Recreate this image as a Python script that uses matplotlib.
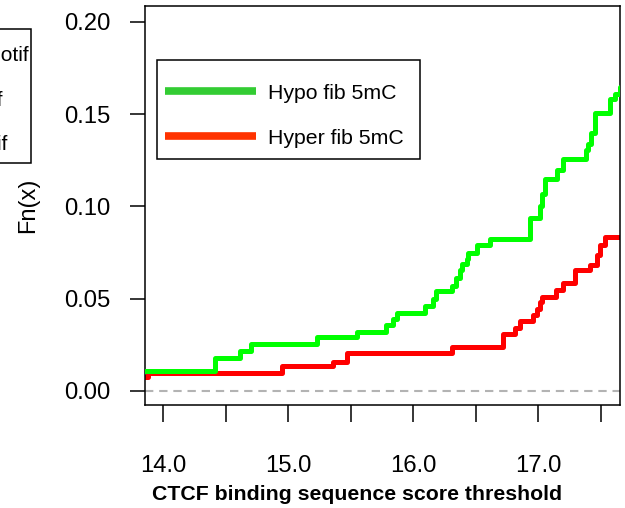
import numpy as np
import matplotlib.pyplot as plt
from matplotlib.lines import Line2D
from matplotlib.patches import Rectangle

plt.rcParams['font.family'] = ['Liberation Sans', 'DejaVu Sans']

# ecdf jump points (x = score, y = Fn(x) after the jump)
hypo_start = 0.011
hypo_x = [14.41, 14.61, 14.70, 15.23, 15.55, 15.78, 15.84, 15.87, 16.09, 16.16,
          16.18, 16.31, 16.34, 16.37, 16.39, 16.43, 16.44, 16.51, 16.61, 16.93,
          17.01, 17.03, 17.05, 17.15, 17.20, 17.38, 17.40, 17.42, 17.45, 17.57,
          17.61, 17.65]
hypo_y = [0.0179, 0.0217, 0.0254, 0.029, 0.032, 0.0357, 0.039, 0.0424, 0.046, 0.050,
          0.054, 0.057, 0.061, 0.0655, 0.069, 0.0715, 0.075, 0.079, 0.0823, 0.0937,
          0.100, 0.107, 0.115, 0.1197, 0.1255, 0.1305, 0.134, 0.140, 0.1504, 0.158,
          0.161, 0.1645]

hyper_start = 0.0074
hyper_x = [13.88, 14.95, 15.36, 15.47, 16.31, 16.72, 16.81, 16.85, 16.96, 16.99,
           17.01, 17.03, 17.14, 17.20, 17.29, 17.41, 17.47, 17.49, 17.53]
hyper_y = [0.0099, 0.0135, 0.0159, 0.0204, 0.024, 0.0309, 0.034, 0.038, 0.041, 0.0443,
           0.048, 0.051, 0.0547, 0.0587, 0.0655, 0.068, 0.0737, 0.079, 0.0836]

labels = ['Hypo fib 5mC', 'Hyper fib 5mC']
x_ticks = [14.0, 14.5, 15.0, 15.5, 16.0, 16.5, 17.0, 17.5]
x_tick_labels = ['14.0', '', '15.0', '', '16.0', '', '17.0', '']
y_ticks = [0.00, 0.05, 0.10, 0.15, 0.20]
y_tick_labels = ['0.00', '0.05', '0.10', '0.15', '0.20']

W, H = 625, 508
def fx(p):
    return p / W
def fy(p):
    return 1 - p / H

fig = plt.figure(figsize=(W / 100, H / 100), dpi=100)
ax = fig.add_axes([fx(145), fy(405), fx(619.5) - fx(145), fy(6) - fy(405)])
xlim = (13.854, 17.65)
ylim = (-0.0076, 0.2086)

ax.axhline(0, color='#b3b3b3', lw=1.5, ls=(0, (4, 2.8)), zorder=1)

# red first, green drawn on top
ax.step([xlim[0] - 0.1] + hyper_x + [xlim[1] + 0.1],
        [hyper_start] + hyper_y + [hyper_y[-1]],
        where='post', color='#ff0000', lw=3.6, zorder=2)
ax.step([xlim[0] - 0.1] + hypo_x + [xlim[1] + 0.1],
        [hypo_start] + hypo_y + [hypo_y[-1]],
        where='post', color='#00ff00', lw=3.6, zorder=3)

ax.set_xlim(*xlim)
ax.set_ylim(*ylim)
ax.set_xticks(x_ticks)
ax.set_xticklabels(x_tick_labels)
ax.set_yticks(y_ticks)
ax.set_yticklabels(y_tick_labels)
ax.tick_params(axis='x', length=12, width=1.1, pad=24, labelsize=17.2)
ax.tick_params(axis='y', length=11, width=1.1, pad=14, labelsize=17.2)
for s in ax.spines.values():
    s.set_linewidth(1.1)

fig.text(fx(357.5), fy(500), 'CTCF binding sequence score threshold',
         ha='center', va='baseline', fontsize=15.3, fontweight='bold')
fig.text(fx(28), fy(205), 'Fn(x)', rotation=90, ha='center', va='center', fontsize=17)

# legend box drawn by hand to match the R layout
fig.patches.append(Rectangle((fx(156.7), fy(158.7)), fx(420) - fx(156.7), fy(60) - fy(158.7),
                             transform=fig.transFigure, fill=True, facecolor='white',
                             edgecolor='black', lw=1.1, zorder=5))
leg_colors = ['#33cc33', '#ff3300']
for i, (lab, c) in enumerate(zip(labels, leg_colors)):
    yc = [90.5, 136][i]
    fig.lines.append(Line2D([fx(165), fx(255.7)], [fy(yc), fy(yc)], transform=fig.transFigure,
                            color=c, lw=5.5, solid_capstyle='butt', zorder=6))
    fig.text(fx(268), fy([99.3, 144.3][i]), lab, ha='left', va='baseline', fontsize=15.3, zorder=6)

# edge of a neighbouring panel's legend, cut off by the crop (as in the reference)
fig.patches.append(Rectangle((fx(-20), fy(163)), fx(31) - fx(-20), fy(29) - fy(163),
                             transform=fig.transFigure, fill=False, edgecolor='black', lw=1.1))
for txt, xr, yb in [('CTCF motif', 29, 61), ('no motif', 3, 105.5), ('motif', 8, 150)]:
    fig.text(fx(xr), fy(yb), txt, ha='right', va='baseline', fontsize=15)

fig.savefig('out.png', dpi=100)
